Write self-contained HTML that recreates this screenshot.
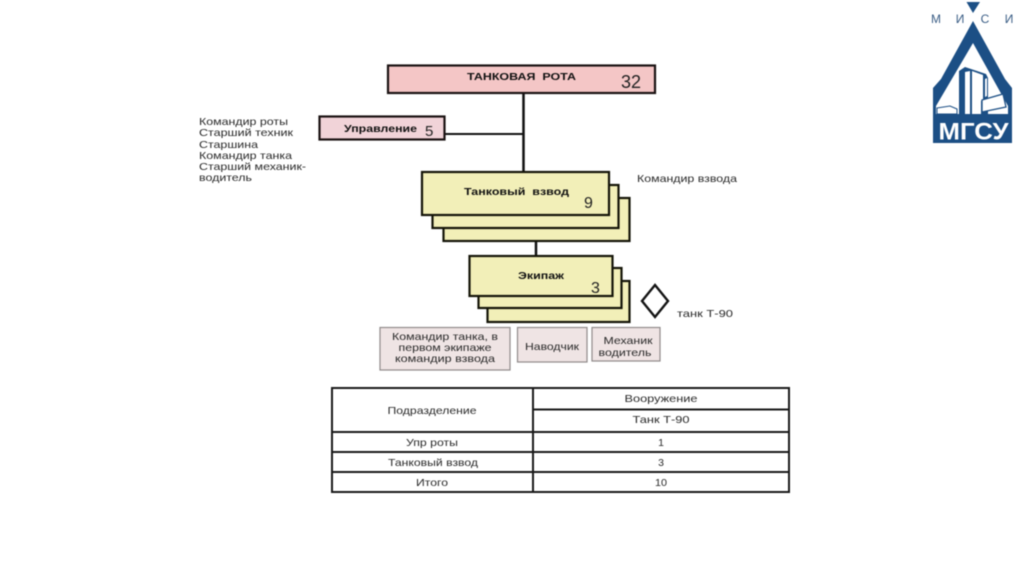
<!DOCTYPE html>
<html><head><meta charset="utf-8">
<style>
html,body{margin:0;padding:0;background:#fff;width:1024px;height:574px;overflow:hidden}
svg{display:block;filter:blur(0.45px)}
text{font-family:"Liberation Sans","DejaVu Sans",sans-serif;fill:#2a2a2a}
.b{font-weight:bold;fill:#111}
.n{font-size:16px;fill:#222}
</style></head><body>
<svg width="1024" height="574" viewBox="0 0 1024 574" xmlns="http://www.w3.org/2000/svg">
<!-- connectors -->
<g stroke="#111" fill="none">
<line x1="523.5" y1="93" x2="523.5" y2="172" stroke-width="2.5"/>
<line x1="445" y1="134" x2="523" y2="134" stroke-width="2"/>
<line x1="536" y1="241" x2="536" y2="256" stroke-width="2.5"/>
</g>
<!-- top boxes -->
<rect x="388" y="65.5" width="267" height="27.5" fill="#f4c6c6" stroke="#1a1212" stroke-width="2.2"/>
<text class="b" x="467" y="80" font-size="10.5" textLength="109" lengthAdjust="spacingAndGlyphs">ТАНКОВАЯ&#160;&#160;РОТА</text>
<text class="n" x="621" y="88" style="font-size:18px">32</text>
<rect x="319.5" y="116.5" width="125" height="23" fill="#f1d3d8" stroke="#1a1212" stroke-width="2.2"/>
<text class="b" x="344" y="132" font-size="10.5" textLength="73" lengthAdjust="spacingAndGlyphs">Управление</text>
<text class="n" x="425" y="136" style="font-size:15px">5</text>
<!-- platoon -->
<g fill="#f2efb8" stroke="#141408" stroke-width="2.2">
<rect x="443.5" y="198" width="186" height="43"/>
<rect x="432.5" y="185" width="186" height="43"/>
<rect x="422" y="172" width="187" height="43"/>
</g>
<text class="b" x="464" y="195" font-size="10.5" textLength="105" lengthAdjust="spacingAndGlyphs">Танковый&#160;&#160;взвод</text>
<text class="n" x="584" y="208">9</text>
<!-- crew -->
<g fill="#f2efb8" stroke="#141408" stroke-width="2.2">
<rect x="487.5" y="281" width="142" height="41"/>
<rect x="478.5" y="268" width="143" height="40"/>
<rect x="469.5" y="256" width="143" height="40"/>
</g>
<text class="b" x="518" y="279" font-size="10.5" textLength="46" lengthAdjust="spacingAndGlyphs">Экипаж</text>
<text class="n" x="591" y="293">3</text>
<polygon points="655,285 668,301 655,317 642,301" fill="#fff" stroke="#141414" stroke-width="2.4"/>
<!-- labels -->
<g font-size="10.5">
<text x="199" y="125" textLength="89" lengthAdjust="spacingAndGlyphs">Командир роты</text>
<text x="199" y="136" textLength="94" lengthAdjust="spacingAndGlyphs">Старший техник</text>
<text x="199" y="148" textLength="59" lengthAdjust="spacingAndGlyphs">Старшина</text>
<text x="199" y="159" textLength="93" lengthAdjust="spacingAndGlyphs">Командир танка</text>
<text x="199" y="170" textLength="107" lengthAdjust="spacingAndGlyphs">Старший механик-</text>
<text x="199" y="181" textLength="53" lengthAdjust="spacingAndGlyphs">водитель</text>
<text x="637" y="182" textLength="100" lengthAdjust="spacingAndGlyphs">Командир взвода</text>
<text x="677" y="317" textLength="56" lengthAdjust="spacingAndGlyphs">танк Т-90</text>
</g>
<!-- gray boxes -->
<g fill="#efe4e4" stroke="#8f8a8a" stroke-width="1.2">
<rect x="380" y="327.5" width="130" height="42.5"/>
<rect x="517.5" y="327.5" width="69.5" height="34.5"/>
<rect x="592" y="327.5" width="68" height="33.5"/>
</g>
<g font-size="10.5" text-anchor="middle">
<text x="445" y="340" textLength="106" lengthAdjust="spacingAndGlyphs">Командир танка, в</text>
<text x="445" y="351" textLength="93" lengthAdjust="spacingAndGlyphs">первом экипаже</text>
<text x="445" y="362" textLength="100" lengthAdjust="spacingAndGlyphs">командир взвода</text>
<text x="552" y="350" textLength="54" lengthAdjust="spacingAndGlyphs">Наводчик</text>
<text x="628" y="344" textLength="49" lengthAdjust="spacingAndGlyphs">Механик</text>
<text x="625" y="356" textLength="53" lengthAdjust="spacingAndGlyphs">водитель</text>
</g>
<!-- table -->
<g fill="none" stroke="#1a1a1a" stroke-width="2">
<rect x="332" y="388" width="457" height="104"/>
<line x1="533" y1="388" x2="533" y2="492"/>
<line x1="533" y1="409.5" x2="789" y2="409.5"/>
<line x1="332" y1="432" x2="789" y2="432"/>
<line x1="332" y1="452" x2="789" y2="452"/>
<line x1="332" y1="472" x2="789" y2="472"/>
</g>
<g font-size="10.5" text-anchor="middle">
<text x="432" y="414" textLength="89" lengthAdjust="spacingAndGlyphs">Подразделение</text>
<text x="661" y="402" textLength="73" lengthAdjust="spacingAndGlyphs">Вооружение</text>
<text x="661" y="423" textLength="57" lengthAdjust="spacingAndGlyphs">Танк Т-90</text>
<text x="432" y="446" textLength="52" lengthAdjust="spacingAndGlyphs">Упр роты</text>
<text x="661" y="446">1</text>
<text x="433" y="466" textLength="90" lengthAdjust="spacingAndGlyphs">Танковый взвод</text>
<text x="661" y="466">3</text>
<text x="432" y="486" textLength="32" lengthAdjust="spacingAndGlyphs">Итого</text>
<text x="661" y="486" textLength="12" lengthAdjust="spacingAndGlyphs">10</text>
</g>
<!-- logo -->
<polygon points="966.5,2 980,2 973,13" fill="#1c4f85"/>
<polygon points="973,21 1005,79 1012,88 1012,143 933,143 933,88 941,79" fill="#1c4f85"/>
<polygon points="973,43 1008,106 1008,114 936,114 936,106" fill="#fff"/>
<polygon points="959,114 959,71 965,67 986,74 988,78 988,114" fill="#1c4f85"/>
<polygon points="965,72 970,71 970,114 965,114" fill="#fff"/>
<polygon points="972,71 983,75 983,100 981,101 981,114 972,114" fill="#fff"/>
<polygon points="985,79 987,78 987,96 985,97" fill="#fff"/>
<polygon points="982,100 1003,94 1006,107 982,112" fill="#fff" stroke="#1c4f85" stroke-width="1.3"/>
<polygon points="937,108 950,106 957,109 957,114 937,114" fill="#fff" stroke="#1c4f85" stroke-width="1"/>
<rect x="933" y="114" width="79" height="29" fill="#1c4f85"/>
<text x="973.5" y="139.5" text-anchor="middle" font-size="24" font-weight="bold" textLength="70" lengthAdjust="spacingAndGlyphs" style="fill:#fff">МГСУ</text>
<g font-size="12" text-anchor="middle">
<text x="936" y="23" style="fill:#3a5d85">М</text>
<text x="960" y="23" style="fill:#3a5d85">И</text>
<text x="985" y="23" style="fill:#3a5d85">С</text>
<text x="1009" y="23" style="fill:#3a5d85">И</text>
</g>
</svg>
</body></html>
